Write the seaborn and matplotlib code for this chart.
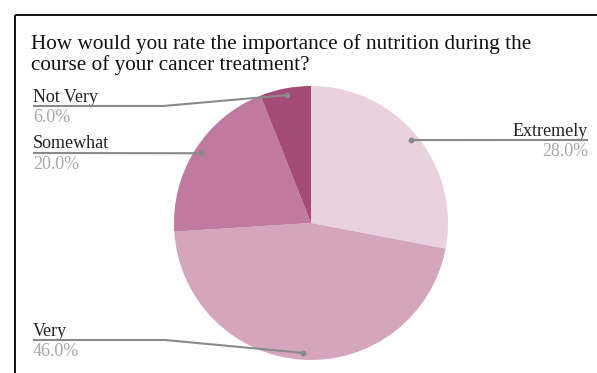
import matplotlib
matplotlib.use("Agg")
import matplotlib.pyplot as plt
import numpy as np
import seaborn as sns

# Survey responses
categories = ["Extremely", "Very", "Somewhat", "Not Very"]
shares = [28.0, 46.0, 20.0, 6.0]
slice_colors = ["#e9d1dd", "#d4a5bd", "#c0799f", "#a54b78"]
title = "How would you rate the importance of nutrition during the\ncourse of your cancer treatment?"

sns.set_theme(style="white")
plt.rcParams["font.family"] = ["Liberation Serif", "DejaVu Serif"]

W, H = 597, 373
fig = plt.figure(figsize=(W / 100, H / 100), dpi=100)

# pie geometry in pixels
cx, cy, R = 311, 223, 137
ax = fig.add_axes([(cx - R) / W, (H - cy - R) / H, 2 * R / W, 2 * R / H])
palette = sns.color_palette(slice_colors)
wedges, _ = ax.pie(shares, colors=palette, startangle=90, counterclock=False,
                   wedgeprops=dict(linewidth=0))
ax.set_xlim(-1, 1)
ax.set_ylim(-1, 1)
ax.set_axis_off()

# overlay in pixel coordinates for frame, title and callouts
ov = fig.add_axes([0, 0, 1, 1], zorder=5)
ov.set_xlim(0, W)
ov.set_ylim(H, 0)
ov.set_axis_off()
ov.patch.set_alpha(0)

# card frame (top and left edges)
ov.plot([15, W], [15, 15], color="#111111", lw=1.4, solid_capstyle="butt")
ov.plot([15, 15], [15, H], color="#111111", lw=1.4, solid_capstyle="butt")

ov.text(31, 49, title.split("\n")[0], ha="left", va="baseline",
        fontsize=15.3, color="#111111")
ov.text(31, 70, title.split("\n")[1], ha="left", va="baseline",
        fontsize=15.3, color="#111111")

# anchor dots at 95% of the radius, at each slice's middle angle
cum = np.cumsum([0] + shares[:-1])
mids = [(c + s / 2) / 100 * 2 * np.pi for c, s in zip(cum, shares)]
dots = [(cx + 0.95 * R * np.sin(a), cy - 0.95 * R * np.cos(a)) for a in mids]

# label layout: (text x, line y, bend x, align)
layout = {
    "Extremely": (588, 140, None, "right"),
    "Very": (33, 340, 165, "left"),
    "Somewhat": (33, 153, None, "left"),
    "Not Very": (33, 106, 163, "left"),
}
line_c = "#8a8a8a"
for cat, val, (dx, dy) in zip(categories, shares, dots):
    tx, ly, bend, ha = layout[cat]
    if bend is None:
        xs, ys = [tx, dx], [ly, dy]
    else:
        xs, ys = [tx, bend, dx], [ly, ly, dy]
    ov.plot(xs, ys, color=line_c, lw=1.5, solid_capstyle="butt", zorder=6)
    ov.scatter([dx], [dy], s=18, color=line_c, zorder=7, linewidths=0)
    ov.text(tx, ly - 4.5, cat, ha=ha, va="baseline", fontsize=13,
            color="#222222")
    ov.text(tx, ly + 16, f"{val:.1f}%", ha=ha, va="baseline", fontsize=13,
            color="#a8a8a8")

fig.savefig("out.png", dpi=100, facecolor="white")
